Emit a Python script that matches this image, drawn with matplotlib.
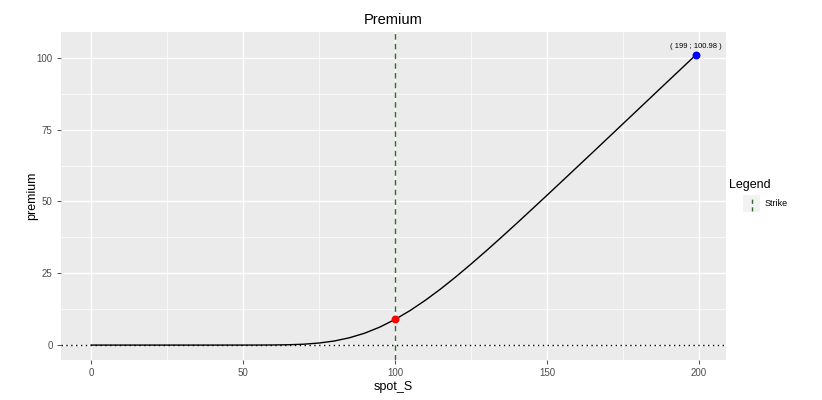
import matplotlib
matplotlib.use("Agg")
import matplotlib.pyplot as plt
from matplotlib.lines import Line2D
from matplotlib.patches import Rectangle

plt.rcParams['font.family'] = ['Liberation Sans', 'DejaVu Sans']

# premium curve
spot_S = [0, 10, 20, 30, 40, 50, 55, 60, 65, 70, 75, 80, 85, 90, 95, 100,
          105, 110, 115, 120, 125, 130, 135, 140, 145, 150, 155, 160, 165,
          170, 175, 180, 185, 190, 195, 199]
premium = [0, 0, 0, 0, 0, 0.003, 0.01, 0.04, 0.12, 0.31, 0.72, 1.42, 2.55,
           4.14, 6.27, 8.92, 12.05, 15.61, 19.52, 23.74, 28.19, 32.78, 37.51,
           42.32, 47.21, 52.12, 57.07, 62.04, 67.01, 72.0, 77.0, 82.0, 87.0,
           92.0, 96.98, 100.98]

strike = 100
strike_premium = 8.92
last_S, last_premium = 199, 100.98
label_y = 103.8

green = "#2E6B2E"
W, H = 822, 400

fig = plt.figure(figsize=(8.22, 4.0), dpi=100)
ax = fig.add_axes([61 / W, 1 - 360 / H, (726 - 61) / W, (360 - 32) / H])

ax.set_facecolor("#EBEBEB")
for s in ax.spines.values():
    s.set_visible(False)

ax.set_xlim(-9.95, 208.95)
ax.set_ylim(-5.19, 108.98)
ax.set_xticks([0, 50, 100, 150, 200])
ax.set_yticks([0, 25, 50, 75, 100])
ax.set_xticks([25, 75, 125, 175], minor=True)
ax.set_yticks([12.5, 37.5, 62.5, 87.5], minor=True)
ax.grid(which="major", color="white", linewidth=1.0)
ax.grid(which="minor", color="white", linewidth=0.5)
ax.set_axisbelow(True)
ax.tick_params(which="major", length=3, color="#333333", labelsize=7, labelcolor="#4D4D4D", width=0.6, pad=3)
ax.tick_params(which="minor", length=0)

ax.axhline(0, color="black", linestyle=(0, (1, 2.5)), linewidth=1.0)
ax.plot(spot_S, premium, color="black", linewidth=1.0)
ax.axvline(strike, color=green, linestyle=(0, (4, 3)), linewidth=1.0)
ax.scatter([strike], [strike_premium], color="red", s=22, zorder=5)
ax.scatter([last_S], [last_premium], color="blue", s=22, zorder=5)
ax.text(last_S, label_y, "( %d ; %.2f )" % (last_S, last_premium),
        ha="center", va="center", fontsize=5.5, color="black")

ax.set_title("Premium", fontsize=10.5, pad=6)
ax.set_xlabel("spot_S", fontsize=9, labelpad=2)
ax.set_ylabel("premium", fontsize=9, labelpad=-1)

# legend drawn by hand: grey key box with a vertical dashed line
fig.text(729 / W, 1 - 185 / H, "Legend", fontsize=9, ha="left", va="center")
fig.patches.append(Rectangle((743 / W, 1 - 212 / H), 17 / W, 17 / H,
                             transform=fig.transFigure, facecolor="#F2F2F2",
                             edgecolor="none"))
fig.lines.append(Line2D([751.5 / W, 751.5 / W], [1 - 211 / H, 1 - 196 / H],
                        transform=fig.transFigure, color=green,
                        linestyle=(0, (3, 2.5)), linewidth=1.0))
fig.text(765 / W, 1 - 203.5 / H, "Strike", fontsize=6.5, ha="left", va="center")

fig.savefig("out.png", dpi=100)
